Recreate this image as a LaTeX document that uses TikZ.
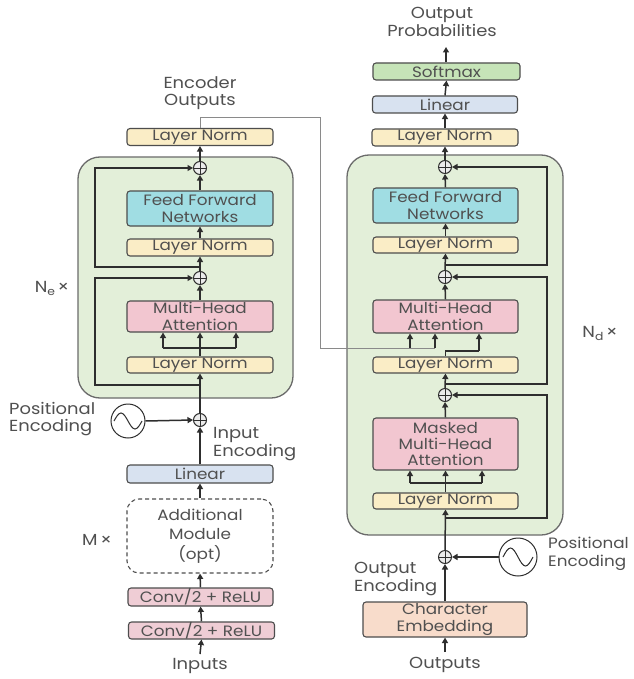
\documentclass[tikz,border=0pt]{standalone}
\usepackage{fontspec}
\setmainfont{Poppins}[FakeStretch=1.12]
\usetikzlibrary{arrows.meta}
\definecolor{blockfill}{HTML}{E3EFD9}
\definecolor{blockline}{HTML}{6B6B6B}
\definecolor{lnfill}{HTML}{FAEDC6}
\definecolor{fffill}{HTML}{A0DDE3}
\definecolor{mhafill}{HTML}{F2C6D0}
\definecolor{linfill}{HTML}{D8E2F0}
\definecolor{smfill}{HTML}{C6E4B8}
\definecolor{convfill}{HTML}{EFCDD5}
\definecolor{embfill}{HTML}{F8DCCB}
\definecolor{txt}{HTML}{505050}
\definecolor{linec}{HTML}{2E2E2E}
\definecolor{encc}{HTML}{8A8A8A}
\tikzset{
  box/.style={draw=linec!85, line width=1.1pt, rounded corners=3pt, inner sep=0pt,
    minimum width=146pt, text=txt, align=center, font=\fontsize{15}{16.5}\selectfont},
  lnbox/.style={box, fill=lnfill, minimum height=17pt},
  block/.style={draw=blockline, line width=1.3pt, fill=blockfill, rounded corners=22pt, inner sep=0pt},
  addc/.style={circle, draw=linec, fill=white!92!black, line width=1pt, minimum size=13pt, inner sep=0pt,
    path picture={\draw[line width=0.8pt, linec] (path picture bounding box.north) -- (path picture bounding box.south)
      (path picture bounding box.west) -- (path picture bounding box.east);}},
  sinec/.style={circle, draw=linec, fill=white, line width=1pt, inner sep=0pt},
  arr/.style={draw=linec, line width=1.5pt, -{Triangle[length=5.5pt,width=6pt]}},
  ln/.style={draw=linec, line width=1.2pt},
  res/.style={draw=linec, line width=1.2pt, -{Triangle[length=5.5pt,width=6pt]}},
  encl/.style={draw=encc, line width=0.9pt},
  lbl/.style={text=txt, align=center, inner sep=0pt, font=\fontsize{16}{17.5}\selectfont},
}
\begin{document}
\begin{tikzpicture}[x=1pt,y=-1pt]
\useasboundingbox[fill=white] (0,0) rectangle (633,679);

% ---------------- Encoder ----------------
\node[block, minimum width=215pt, minimum height=241pt] (eblock) at (185.5,277.5) {};
\node[lbl] (encout) at (200,93) {Encoder\\Outputs};
\node[lnbox] (eln3) at (200,137) {Layer Norm};
\node[addc] (eadd2) at (200,168) {};
\node[box, fill=fffill, minimum height=35pt] (eff) at (200,208.5) {Feed Forward\\Networks};
\node[lnbox] (eln2) at (200,247.5) {Layer Norm};
\node[addc] (eadd1) at (200,278) {};
\node[box, fill=mhafill, minimum height=31pt] (emha) at (200,316.5) {Multi-Head\\Attention};
\node[lnbox, minimum height=16pt] (eln1) at (200,365) {Layer Norm};
\node[addc] (epadd) at (200,420) {};
\node[sinec, minimum size=34pt] (esine) at (128,421) {};
\draw[line width=1pt, linec] ([xshift=-14pt]esine.center) sin ++(7pt,8pt) cos ++(7pt,-8pt) sin ++(7pt,-8pt) cos ++(7pt,8pt);
\node[lbl, align=left, anchor=west] (eposl) at (9,419) {Positional\\Encoding};
\node[lbl, align=left, anchor=west] (einl) at (213,444) {Input\\Encoding};
\node[box, fill=linfill, minimum height=18pt] (elin) at (200,474) {Linear};
\node[box, dashed, dash pattern=on 4pt off 3pt, fill=none, rounded corners=12pt, minimum height=74pt, font=\fontsize{15}{19.5}\selectfont] (eadd) at (200,536) {Additional\\Module\\(opt)};
\node[box, fill=convfill, minimum height=18pt, minimum width=145pt] (econv1) at (200.5,597) {Conv/2 + ReLU};
\node[box, fill=convfill, minimum height=17pt] (econv2) at (201.5,630.5) {Conv/2 + ReLU};
\node[lbl] (einp) at (200,666) {Inputs};
\node[lbl] (ene) at (52,288) {N\raisebox{-3pt}{\fontsize{11}{11}\selectfont e}\,×};
\node[lbl] (emx) at (97,540) {M\,×};

% encoder connectors
\coordinate (einb) at (200,654);
\draw[arr] (einb) -- (econv2.south);
\draw[arr] (econv2.north) -- (econv1.south);
\draw[arr] (econv1.north) -- (eadd.south);
\draw[arr] (eadd.north) -- (elin.south);
\draw[arr] (elin.north) -- (epadd.south);
\draw[arr] (esine.east) -- (epadd.west);
\draw[arr] (epadd.north) -- (eln1.south);
\coordinate (ej) at (200,348);
\draw[arr] (eln1.north) -- (emha.south);
\draw[ln] ([xshift=-37pt]ej) -- ([xshift=36pt]ej);
\draw[arr] ([xshift=-37pt]ej) -- ([xshift=-37pt]ej |- emha.south);
\draw[arr] ([xshift=36pt]ej) -- ([xshift=36pt]ej |- emha.south);
\draw[arr] (emha.north) -- (eadd1.south);
\coordinate (eb1) at (200,385);
\draw[res] (eb1) -- ++(-105,0) |- (eadd1.west);
\draw[arr] (eadd1.north) -- (eln2.south);
\draw[arr] (eln2.north) -- (eff.south);
\draw[arr] (eff.north) -- (eadd2.south);
\coordinate (eb2) at (200,267);
\draw[res] (eb2) -- ++(-105,0) |- (eadd2.west);
\draw[arr] (eadd2.north) -- (eln3.south);

% ---------------- Decoder ----------------
\node[block, minimum width=216pt, minimum height=380pt] (dblock) at (455,345) {};
\node[lbl] (outp) at (442,22) {Output\\Probabilities};
\node[box, fill=smfill, minimum height=17pt, minimum width=147pt] (dsm) at (446.5,71.5) {Softmax};
\node[box, fill=linfill, minimum height=17pt, minimum width=145pt] (dlin) at (445,104.5) {Linear};
\node[lnbox] (dln4) at (445,137.5) {Layer Norm};
\node[addc] (dadd3) at (445,167) {};
\node[box, fill=fffill, minimum height=35pt, minimum width=145pt] (dff) at (445.5,205.5) {Feed Forward\\Networks};
\node[lnbox, minimum width=145pt, minimum height=16pt] (dln3) at (445.5,245) {Layer Norm};
\node[addc] (dadd2) at (445,277) {};
\node[box, fill=mhafill, minimum height=33pt, minimum width=145pt] (dmha) at (445.5,316.5) {Multi-Head\\Attention};
\node[lnbox, minimum width=145pt, minimum height=16pt] (dln2) at (445.5,365) {Layer Norm};
\node[addc] (dadd1) at (445,395) {};
\node[box, fill=mhafill, minimum height=52pt, minimum width=145pt, font=\fontsize{15}{16}\selectfont] (dmmha) at (445.5,444) {Masked\\Multi-Head\\Attention};
\node[lnbox, minimum width=145pt, minimum height=16pt] (dln1) at (445.5,501) {Layer Norm};
\node[addc] (dpadd) at (445,557) {};
\node[sinec, minimum size=38pt] (dsine) at (518,557) {};
\draw[line width=1pt, linec] ([xshift=-15pt]dsine.center) sin ++(7.5pt,9pt) cos ++(7.5pt,-9pt) sin ++(7.5pt,-9pt) cos ++(7.5pt,9pt);
\node[lbl, align=left, anchor=west, font=\fontsize{15}{17.5}\selectfont] (dposl) at (548,554) {Positional\\Encoding};
\node[lbl, align=left, anchor=west] (doutl) at (354,579) {Output\\Encoding};
\node[box, fill=embfill, minimum height=35pt, minimum width=164pt] (demb) at (445,619.5) {Character\\Embedding};
\node[lbl] (doutputs) at (445,665) {Outputs};
\node[lbl] (dnd) at (600,333) {N\raisebox{-3pt}{\fontsize{11}{11}\selectfont d}\,×};

% decoder connectors
\coordinate (doutb) at (445,652);
\draw[arr] (doutb) -- (demb.south);
\draw[arr] (demb.north) -- (dpadd.south);
\draw[arr] (dsine.west) -- (dpadd.east);
\draw[arr] (dpadd.north) -- (dln1.south);
\coordinate (dj0) at (445,483);
\draw[arr] (dln1.north) -- (dmmha.south);
\draw[ln] ([xshift=-35pt]dj0) -- ([xshift=37pt]dj0);
\draw[arr] ([xshift=-35pt]dj0) -- ([xshift=-35pt]dj0 |- dmmha.south);
\draw[arr] ([xshift=37pt]dj0) -- ([xshift=37pt]dj0 |- dmmha.south);
\draw[arr] (dmmha.north) -- (dadd1.south);
\coordinate (db1) at (445,518);
\draw[res] (db1) -- ++(102,0) |- (dadd1.east);
\draw[arr] (dadd1.north) -- (dln2.south);
% encoder output into decoder MHA
\coordinate (ecor1) at (320,117);
\coordinate (ecor2) at (320,348);
\coordinate (dj2) at (435,348);
\coordinate (dj1) at (410,348);
\draw[encl] (eln3.north) |- (ecor1) -- (ecor2) -- (dj2);
\draw[arr] (dj1) -- (dj1 |- dmha.south);
\draw[arr] (dj2) -- (dj2 |- dmha.south);
\coordinate (dj3) at (479,351);
\draw[ln] (dln2.north) |- (dj3);
\draw[arr] (dj3) -- (dj3 |- dmha.south);
\draw[arr] (dmha.north) -- (dadd2.south);
\coordinate (db2) at (445,384);
\draw[res] (db2) -- ++(102,0) |- (dadd2.east);
\draw[arr] (dadd2.north) -- (dln3.south);
\draw[arr] (dln3.north) -- (dff.south);
\draw[arr] (dff.north) -- (dadd3.south);
\coordinate (db3) at (445,265);
\draw[res] (db3) -- ++(102,0) |- (dadd3.east);
\draw[arr] (dadd3.north) -- (dln4.south);
\draw[arr] (dln4.north) -- (dlin.south);
\draw[arr] (dlin.north) -- (dsm.south);
\coordinate (dprob) at (446,47);
\draw[arr] (dsm.north -| dprob) -- (dprob);
\end{tikzpicture}
\end{document}
